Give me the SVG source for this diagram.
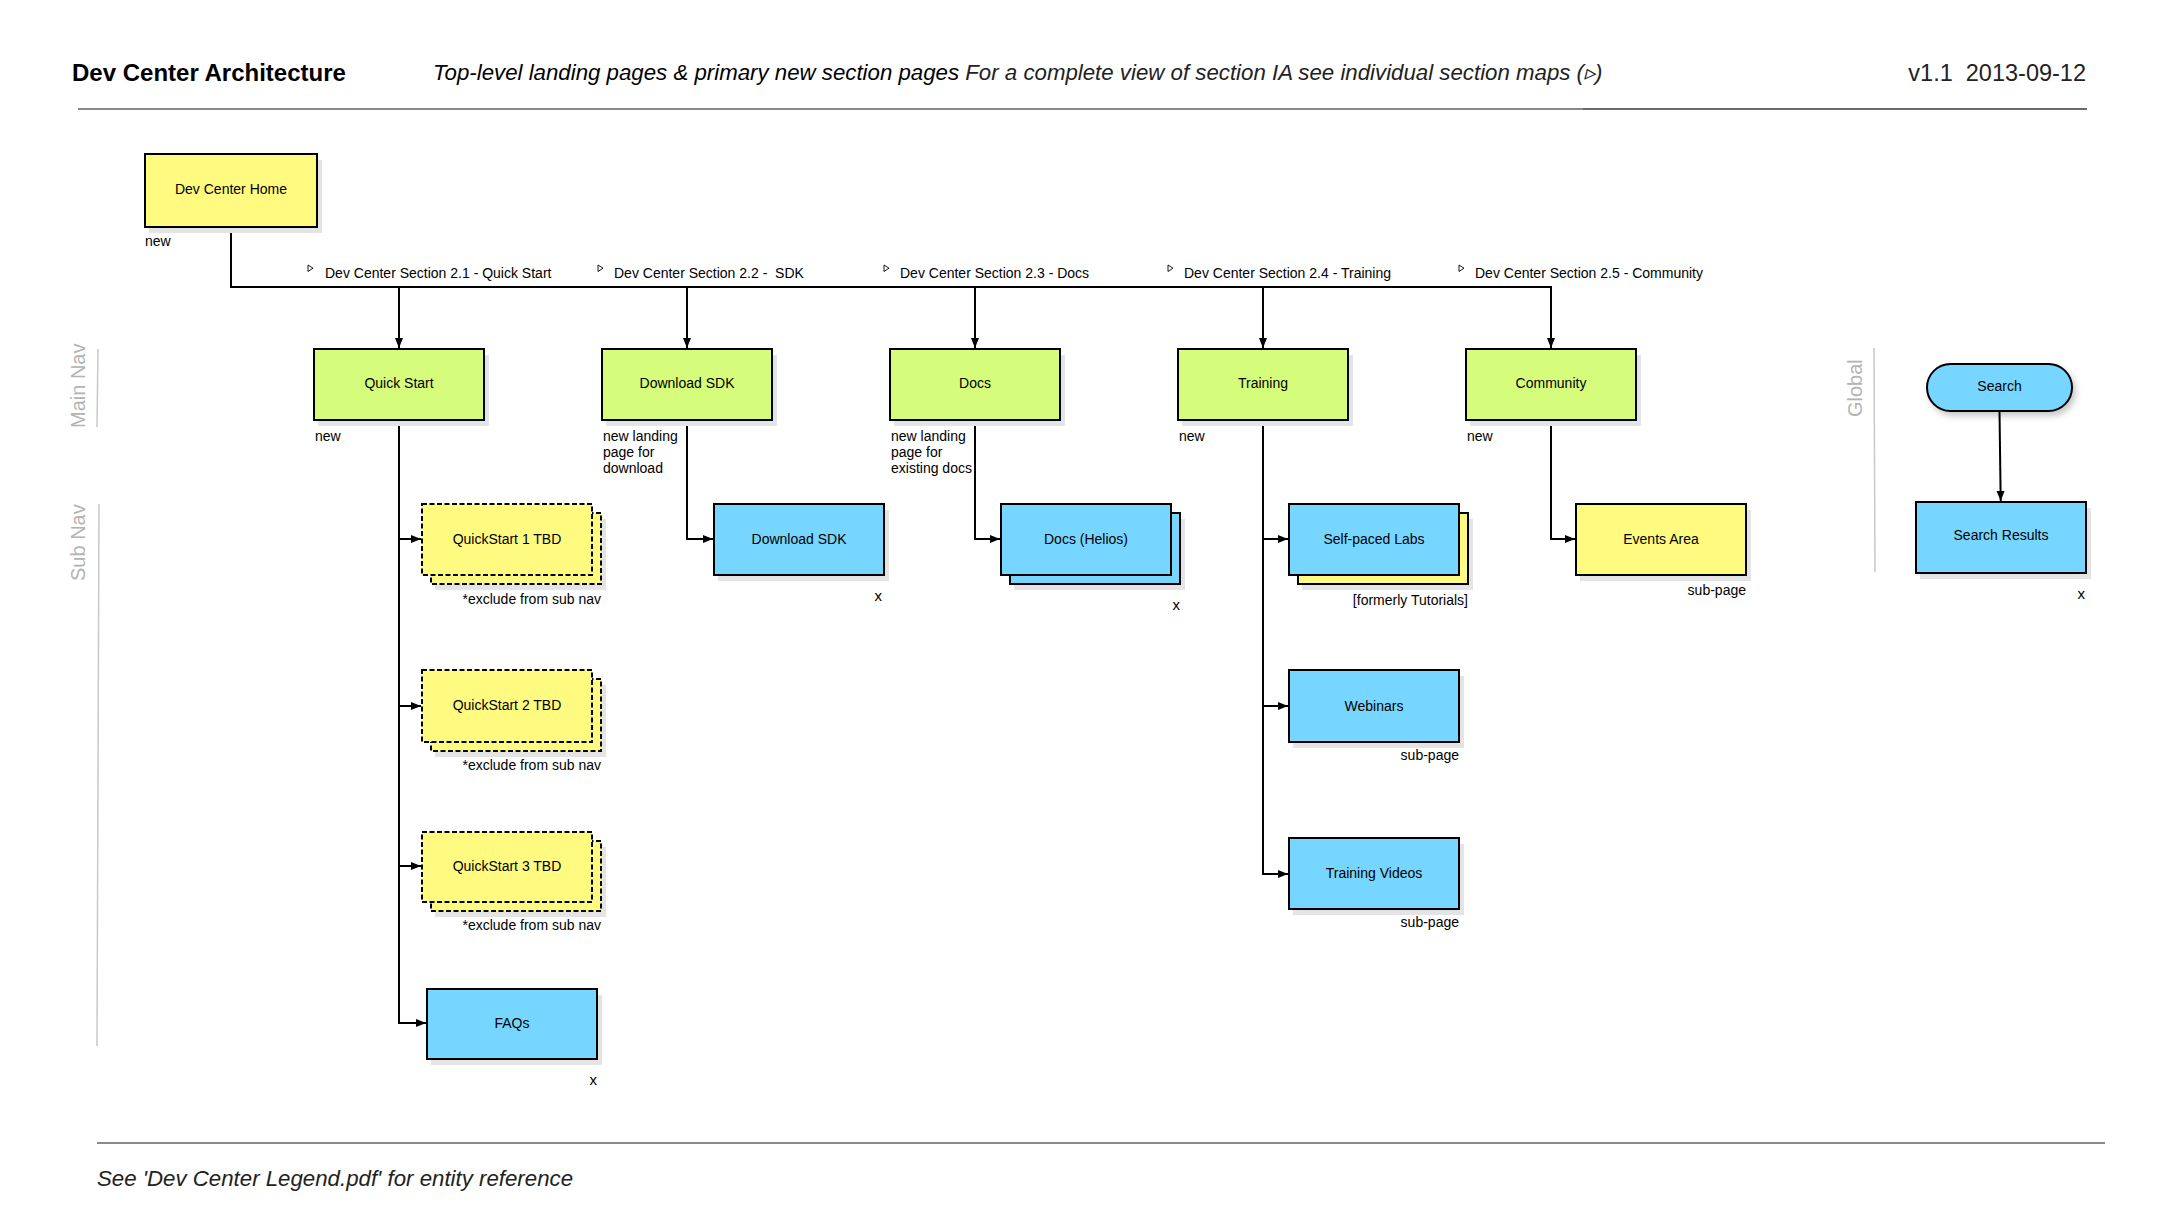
<svg xmlns="http://www.w3.org/2000/svg" width="2160" height="1228" viewBox="0 0 2160 1228">
<style>
text{font-family:"Liberation Sans",Arial,Helvetica,sans-serif;fill:#000}
.t{font-size:14px;text-anchor:middle}
.s{font-size:14px}
.e{font-size:14px;text-anchor:end}
.x{font-size:15px;text-anchor:end}
.side{font-size:20px;fill:#b3b3b3}
.sh{fill:#e4e4e4}
.box{stroke:#000;stroke-width:2}
.y{fill:#fffb80}
.g{fill:#d6fc7b}
.b{fill:#77d6ff}
.dash{stroke-dasharray:5 2.5}
.cn{fill:none;stroke:#000;stroke-width:2}
.tri{fill:#fff;stroke:#000;stroke-width:0.9}
.rule{stroke:#8a8a8a;stroke-width:2.2}
.vr{stroke:#c8c8c8;stroke-width:1.5}
</style>
<defs>
<marker id="ah" markerUnits="userSpaceOnUse" markerWidth="11" markerHeight="9" refX="10" refY="4" orient="auto">
<path d="M0,0 L10,4 L0,8 z" fill="#000"/>
</marker>
<filter id="ds" x="-20%" y="-30%" width="150%" height="170%">
<feDropShadow dx="3" dy="4" stdDeviation="3" flood-color="#000" flood-opacity="0.22"/>
</filter>
</defs>

<!-- header -->
<g id="header">
<text x="72" y="81" style="font-size:24px;font-weight:bold">Dev Center Architecture</text>
<text x="433" y="80" style="font-size:22.25px;font-style:italic">Top-level landing pages &amp; primary new section pages <tspan fill="#222">For a complete view of section IA see individual section maps (▹)</tspan></text>
<text x="2086" y="81" xml:space="preserve" style="font-size:23.5px;text-anchor:end;fill:#222">v1.1  2013-09-12</text>
<line x1="78" y1="109" x2="1583" y2="109" class="rule"/>
<line x1="1583" y1="109" x2="2087" y2="109" class="rule" style="stroke:#6a6a6a"/>
</g>

<g id="lanes">
<line x1="98" y1="349" x2="97" y2="427" class="vr"/>
<text transform="translate(85,428) rotate(-90)" class="side">Main Nav</text>
<line x1="99" y1="504" x2="97" y2="1046" class="vr"/>
<text transform="translate(85,581) rotate(-90)" class="side">Sub Nav</text>
<line x1="1874" y1="348" x2="1875" y2="572" class="vr"/>
<text transform="translate(1862,417) rotate(-90)" class="side">Global</text>
</g>

<!-- section labels -->
<g id="section-labels">
<polygon class="tri" points="308,265 308,271.5 313,268.2"/>
<text x="325" y="277.5" class="s">Dev Center Section 2.1 - Quick Start</text>
<polygon class="tri" points="598,265 598,271.5 603,268.2"/>
<text x="614" y="277.5" class="s" xml:space="preserve">Dev Center Section 2.2 -  SDK</text>
<polygon class="tri" points="884,265 884,271.5 889,268.2"/>
<text x="900" y="277.5" class="s">Dev Center Section 2.3 - Docs</text>
<polygon class="tri" points="1168,265 1168,271.5 1173,268.2"/>
<text x="1184" y="277.5" class="s">Dev Center Section 2.4 - Training</text>
<polygon class="tri" points="1459,265 1459,271.5 1464,268.2"/>
<text x="1475" y="277.5" class="s">Dev Center Section 2.5 - Community</text>
</g>

<!-- connectors -->
<g id="connectors">
<path class="cn" d="M231,227 V287 H1551 V348" marker-end="url(#ah)"/>
<path class="cn" d="M399,287 V348" marker-end="url(#ah)"/>
<path class="cn" d="M687,287 V348" marker-end="url(#ah)"/>
<path class="cn" d="M975,287 V348" marker-end="url(#ah)"/>
<path class="cn" d="M1263,287 V348" marker-end="url(#ah)"/>

<path class="cn" d="M399,420 V1023 H426" marker-end="url(#ah)"/>
<path class="cn" d="M399,539 H421" marker-end="url(#ah)"/>
<path class="cn" d="M399,706 H421" marker-end="url(#ah)"/>
<path class="cn" d="M399,866 H421" marker-end="url(#ah)"/>

<path class="cn" d="M687,420 V539 H713" marker-end="url(#ah)"/>
<path class="cn" d="M975,420 V539 H1000" marker-end="url(#ah)"/>

<path class="cn" d="M1263,420 V874 H1288" marker-end="url(#ah)"/>
<path class="cn" d="M1263,539 H1288" marker-end="url(#ah)"/>
<path class="cn" d="M1263,706 H1288" marker-end="url(#ah)"/>

<path class="cn" d="M1551,420 V539 H1575" marker-end="url(#ah)"/>

<path class="cn" d="M1999.5,411 L2000.7,501" marker-end="url(#ah)"/>
</g>

<!-- nodes -->
<g id="dev-center-home">
<rect class="sh" x="149" y="160" width="173" height="73"/>
<rect class="box y" x="145" y="154" width="172" height="73"/>
<text class="t" x="231" y="194">Dev Center Home</text>
<text class="s" x="145" y="246">new</text>
</g>

<g id="quick-start">
<rect class="sh" x="318" y="355" width="171" height="71"/>
<rect class="box g" x="314" y="349" width="170" height="71"/>
<text class="t" x="399" y="387.5">Quick Start</text>
<text class="s" x="315" y="440.5">new</text>
</g>

<g id="download-sdk">
<rect class="sh" x="606" y="355" width="171" height="71"/>
<rect class="box g" x="602" y="349" width="170" height="71"/>
<text class="t" x="687" y="387.5">Download SDK</text>
<text class="s" x="603" y="440.5">new landing</text>
<text class="s" x="603" y="456.5">page for</text>
<text class="s" x="603" y="472.5">download</text>
</g>

<g id="docs">
<rect class="sh" x="894" y="355" width="171" height="71"/>
<rect class="box g" x="890" y="349" width="170" height="71"/>
<text class="t" x="975" y="387.5">Docs</text>
<text class="s" x="891" y="440.5">new landing</text>
<text class="s" x="891" y="456.5">page for</text>
<text class="s" x="891" y="472.5">existing docs</text>
</g>

<g id="training">
<rect class="sh" x="1182" y="355" width="171" height="71"/>
<rect class="box g" x="1178" y="349" width="170" height="71"/>
<text class="t" x="1263" y="387.5">Training</text>
<text class="s" x="1179" y="440.5">new</text>
</g>

<g id="community">
<rect class="sh" x="1470" y="355" width="171" height="71"/>
<rect class="box g" x="1466" y="349" width="170" height="71"/>
<text class="t" x="1551" y="387.5">Community</text>
<text class="s" x="1467" y="440.5">new</text>
</g>

<g id="quickstart-1">
<rect class="sh" x="435" y="519" width="171" height="71"/>
<rect class="box y dash" x="431" y="513" width="170" height="71"/>
<rect class="box y dash" x="422" y="504" width="170" height="71"/>
<text class="t" x="507" y="543.5">QuickStart 1 TBD</text>
<text class="e" x="601" y="604">*exclude from sub nav</text>
</g>

<g id="quickstart-2">
<rect class="sh" x="435" y="685" width="171" height="72"/>
<rect class="box y dash" x="431" y="679" width="170" height="72"/>
<rect class="box y dash" x="422" y="670" width="170" height="72"/>
<text class="t" x="507" y="710">QuickStart 2 TBD</text>
<text class="e" x="601" y="770">*exclude from sub nav</text>
</g>

<g id="quickstart-3">
<rect class="sh" x="435" y="847" width="171" height="70"/>
<rect class="box y dash" x="431" y="841" width="170" height="70"/>
<rect class="box y dash" x="422" y="832" width="170" height="70"/>
<text class="t" x="507" y="871">QuickStart 3 TBD</text>
<text class="e" x="601" y="930">*exclude from sub nav</text>
</g>

<g id="faqs">
<rect class="sh" x="431" y="995" width="171" height="70"/>
<rect class="box b" x="427" y="989" width="170" height="70"/>
<text class="t" x="512" y="1028">FAQs</text>
<text class="x" x="597" y="1085">x</text>
</g>

<g id="download-sdk-page">
<rect class="sh" x="718" y="510" width="171" height="71"/>
<rect class="box b" x="714" y="504" width="170" height="71"/>
<text class="t" x="799" y="543.5">Download SDK</text>
<text class="x" x="882" y="601">x</text>
</g>

<g id="docs-helios">
<rect class="sh" x="1014" y="519" width="171" height="71"/>
<rect class="box b" x="1010" y="513" width="170" height="71"/>
<rect class="box b" x="1001" y="504" width="170" height="71"/>
<text class="t" x="1086" y="543.5">Docs (Helios)</text>
<text class="x" x="1180" y="610">x</text>
</g>

<g id="self-paced-labs">
<rect class="sh" x="1302" y="519" width="171" height="71"/>
<rect class="box y" x="1298" y="513" width="170" height="71"/>
<rect class="box b" x="1289" y="504" width="170" height="71"/>
<text class="t" x="1374" y="543.5">Self-paced Labs</text>
<text class="e" x="1468" y="605">[formerly Tutorials]</text>
</g>

<g id="webinars">
<rect class="sh" x="1293" y="676" width="171" height="72"/>
<rect class="box b" x="1289" y="670" width="170" height="72"/>
<text class="t" x="1374" y="710.5">Webinars</text>
<text class="e" x="1459" y="760">sub-page</text>
</g>

<g id="training-videos">
<rect class="sh" x="1293" y="844" width="171" height="71"/>
<rect class="box b" x="1289" y="838" width="170" height="71"/>
<text class="t" x="1374" y="878">Training Videos</text>
<text class="e" x="1459" y="927">sub-page</text>
</g>

<g id="events-area">
<rect class="sh" x="1580" y="510" width="171" height="71"/>
<rect class="box y" x="1576" y="504" width="170" height="71"/>
<text class="t" x="1661" y="543.5">Events Area</text>
<text class="e" x="1746" y="595">sub-page</text>
</g>

<g id="search">
<rect class="box b" x="1927" y="364" width="145" height="47" rx="23.5" filter="url(#ds)"/>
<text class="t" x="1999.5" y="391">Search</text>
</g>

<g id="search-results">
<rect class="sh" x="1920" y="508" width="171" height="71"/>
<rect class="box b" x="1916" y="502" width="170" height="71"/>
<text class="t" x="2001" y="540">Search Results</text>
<text class="x" x="2085" y="599">x</text>
</g>

<!-- footer -->
<g id="footer">
<line x1="97" y1="1143" x2="2105" y2="1143" class="rule"/>
<text x="97" y="1186" style="font-size:22.25px;font-style:italic;fill:#222">See 'Dev Center Legend.pdf' for entity reference</text>
</g>
</svg>
